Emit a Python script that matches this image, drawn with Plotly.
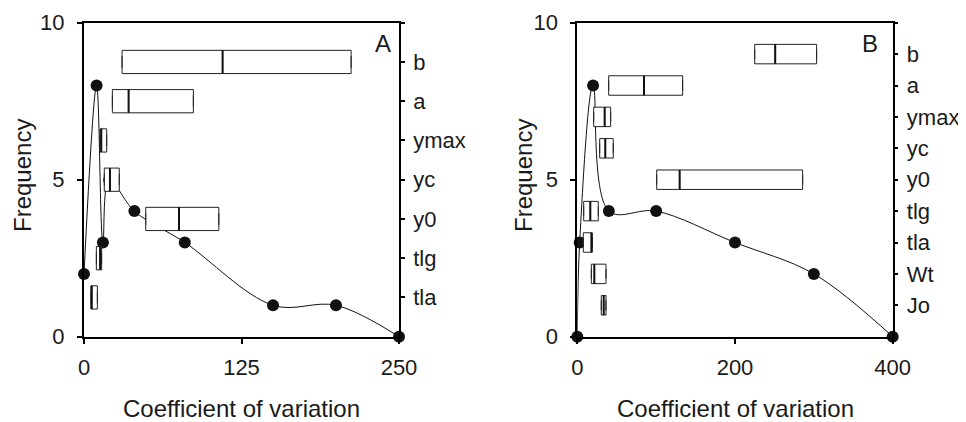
import plotly.graph_objects as go

# ---------------- data ----------------
# Panel A : frequency distribution of coefficient of variation
a_cv = [0, 10, 15, 20, 40, 80, 150, 200, 250]
a_freq = [2, 8, 3, 5, 4, 3, 1, 1, 0]
# Panel A : box summaries (bottom -> top on the right axis)
a_labels = ["tla", "tlg", "y0", "yc", "ymax", "a", "b"]
a_q1 = [5.6, 9.8, 49, 16.1, 12.7, 22.5, 30.2]
a_med = [6.0, 12.8, 75.4, 20.6, 13.7, 35.4, 110]
a_q3 = [10.6, 14.0, 107, 28.0, 18.0, 86.8, 212]

# Panel B
b_cv = [0, 3, 20, 40, 100, 200, 300, 400]
b_freq = [0, 3, 8, 4, 4, 3, 2, 0]
b_labels = ["Jo", "Wt", "tla", "tlg", "y0", "yc", "ymax", "a", "b"]
b_q1 = [30.4, 17.8, 7.6, 8.1, 100.7, 28.4, 20.8, 39.8, 225]
b_med = [33.5, 21.6, 18.0, 16.5, 129.8, 35.5, 34.7, 84.6, 251]
b_q3 = [36.4, 36.4, 19.0, 26.6, 285.8, 45.6, 42.3, 133.6, 303.5]

left_ticks = [0, 5, 10]
a_xticks = [0, 125, 250]
b_xticks = [0, 200, 400]

# ---------------- figure ----------------
FONT = "Liberation Sans, Arial, sans-serif"
TXT = "#1a1a1a"
fig = go.Figure()


def positions(n):
    return [(i + 1) * 10.0 / (n + 1) for i in range(n)]


def add_panel(cv, freq, labels, q1, med, q3, xa, ya, ya2, boxw):
    pos = positions(len(labels))
    fig.add_trace(go.Box(
        y=pos, q1=q1, median=med, q3=q3, lowerfence=q1, upperfence=q3,
        orientation="h", width=boxw, fillcolor="white",
        line=dict(color="#222", width=1), boxpoints=False,
        xaxis=xa, yaxis=ya2, showlegend=False, hoverinfo="skip"))
    fig.add_trace(go.Box(
        y=pos, q1=med, median=med, q3=med, lowerfence=med, upperfence=med,
        orientation="h", width=boxw, fillcolor="rgba(0,0,0,0)",
        line=dict(color="#111", width=2), boxpoints=False,
        xaxis=xa, yaxis=ya2, showlegend=False, hoverinfo="skip"))
    fig.add_trace(go.Scatter(
        x=cv, y=freq, mode="lines+markers",
        line=dict(color="#111", width=1, shape="spline", smoothing=1),
        marker=dict(color="#111", size=12),
        cliponaxis=False, xaxis=xa, yaxis=ya, showlegend=False))


add_panel(a_cv, a_freq, a_labels, a_q1, a_med, a_q3, "x", "y", "y2", 0.74)
add_panel(b_cv, b_freq, b_labels, b_q1, b_med, b_q3, "x2", "y3", "y4", 0.62)

# page body has an 8px margin: work in page pixels and shift by OFF
OFF = 8
W, H = 966 - OFF, 422 - OFF


def px(x):
    return (x - OFF) / W


def py(y):
    return (H - (y - OFF)) / H


yd = [py(336.7), py(22.7)]
xdA = [px(84), px(399)]
xdB = [px(577.3), px(892.7)]

tickfont = dict(family=FONT, size=22, color=TXT)
common_x = dict(showline=True, linecolor="black", linewidth=2, mirror=True,
                ticks="outside", ticklen=5, tickwidth=1.5, tickcolor="black",
                showgrid=False, zeroline=False, tickfont=tickfont,
                ticklabelstandoff=5, automargin=False)
common_y = dict(showline=True, linecolor="black", linewidth=2, mirror=True,
                ticks="outside", ticklen=5, tickwidth=1.5, tickcolor="black",
                showgrid=False, zeroline=False, tickfont=tickfont,
                range=[0, 10], tickvals=left_ticks, ticklabelstandoff=8,
                automargin=False)
common_y2 = dict(showline=True, linecolor="black", linewidth=1.5,
                 ticks="outside", ticklen=4, tickwidth=1.5, tickcolor="black",
                 showgrid=False, zeroline=False, tickfont=tickfont,
                 range=[0, 10], side="right", ticklabelstandoff=4,
                 automargin=False)

fig.update_layout(
    width=W, height=H, margin=dict(l=0, r=0, t=0, b=0, autoexpand=False),
    paper_bgcolor="white", plot_bgcolor="white",
    font=dict(family=FONT, color=TXT),
    xaxis=dict(domain=xdA, range=[0, 250], tickvals=a_xticks, anchor="y", **common_x),
    yaxis=dict(domain=yd, anchor="x", **common_y),
    yaxis2=dict(overlaying="y", anchor="x", tickvals=positions(len(a_labels)) + [10],
                ticktext=a_labels + [""], **common_y2),
    xaxis2=dict(domain=xdB, range=[0, 400], tickvals=b_xticks, anchor="y3", **common_x),
    yaxis3=dict(domain=yd, anchor="x2", **common_y),
    yaxis4=dict(overlaying="y3", anchor="x2", tickvals=positions(len(b_labels)) + [10],
                ticktext=b_labels + [""], **common_y2),
)

ann = []
for cx in [241.7, 735]:
    ann.append(dict(text="Coefficient of variation", x=px(cx), y=py(408),
                    xanchor="center", yanchor="middle",
                    xref="paper", yref="paper", showarrow=False,
                    font=dict(family=FONT, size=24, color=TXT)))
for fx in [22, 523]:
    ann.append(dict(text="Frequency", x=px(fx), y=py(176), textangle=-90,
                    xanchor="center", yanchor="middle",
                    xref="paper", yref="paper", showarrow=False,
                    font=dict(family=FONT, size=24, color=TXT)))
ann.append(dict(text="A", x=237, y=9.35, xref="x", yref="y", showarrow=False,
                xanchor="center", yanchor="middle",
                font=dict(family=FONT, size=24, color=TXT)))
ann.append(dict(text="B", x=371, y=9.35, xref="x2", yref="y3", showarrow=False,
                xanchor="center", yanchor="middle",
                font=dict(family=FONT, size=24, color=TXT)))
fig.update_layout(annotations=ann)

fig.write_html("out.html")
